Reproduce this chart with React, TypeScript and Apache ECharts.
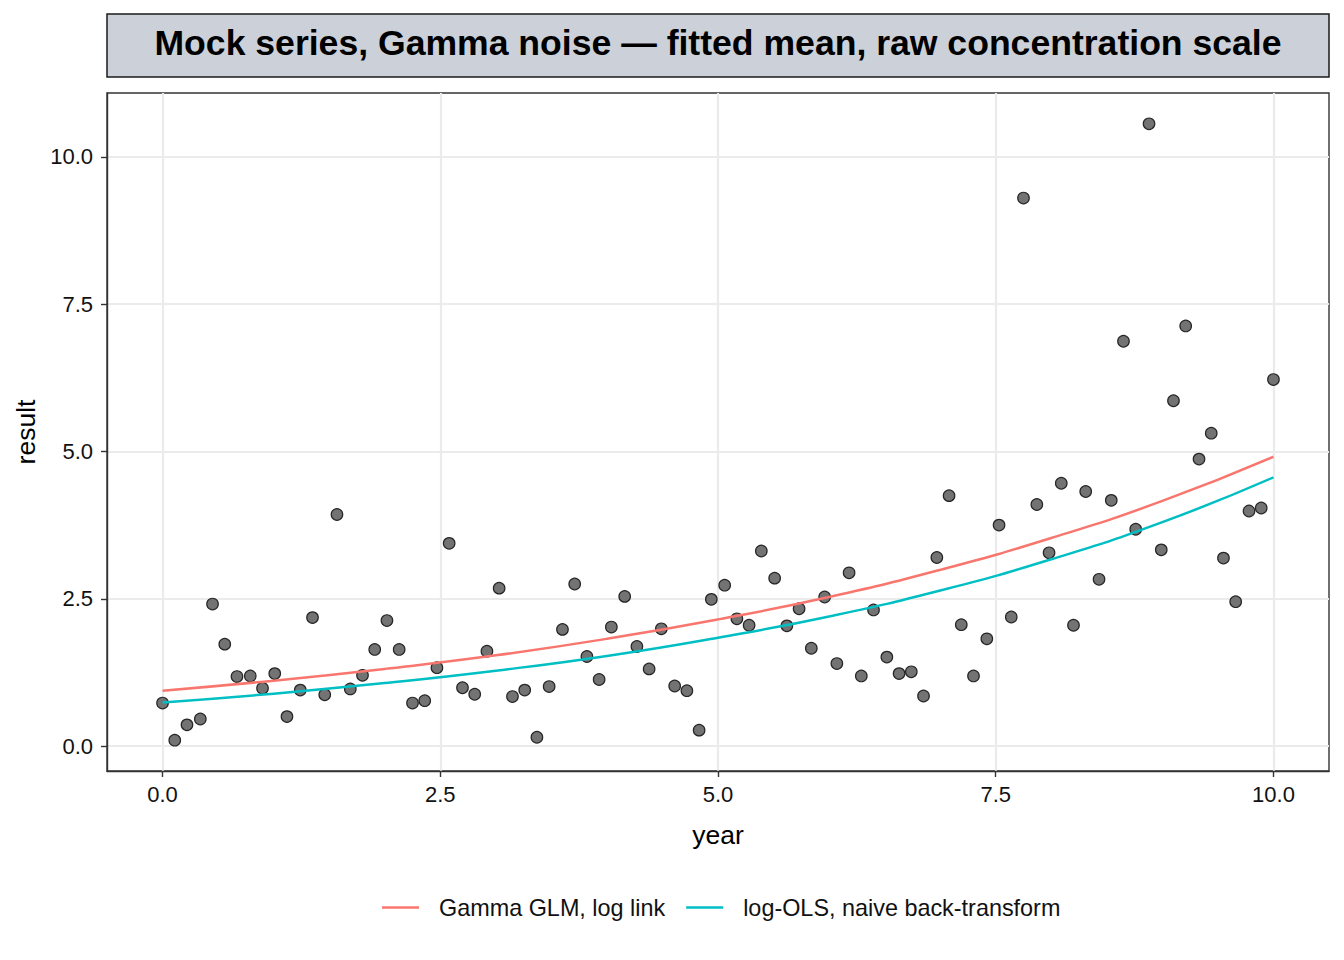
import React, { useEffect, useRef } from "react";
import * as echarts from "echarts";

const TITLE = "Mock series, Gamma noise — fitted mean, raw concentration scale";
const X_NAME = "year";
const Y_NAME = "result";
const SERIES_NAMES = ["Gamma GLM, log link", "log-OLS, naive back-transform"];
const SERIES_COLORS = ["#F8766D", "#00BFC4"];

const X_TICKS = [0, 2.5, 5, 7.5, 10];
const Y_TICKS = [0, 2.5, 5, 7.5, 10];

// observed points
const YEARS = [
  0.0, 0.11, 0.22, 0.34, 0.45, 0.56, 0.67, 0.79, 0.9, 1.01,
  1.12, 1.24, 1.35, 1.46, 1.57, 1.69, 1.8, 1.91, 2.02, 2.13,
  2.25, 2.36, 2.47, 2.58, 2.7, 2.81, 2.92, 3.03, 3.15, 3.26,
  3.37, 3.48, 3.6, 3.71, 3.82, 3.93, 4.04, 4.16, 4.27, 4.38,
  4.49, 4.61, 4.72, 4.83, 4.94, 5.06, 5.17, 5.28, 5.39, 5.51,
  5.62, 5.73, 5.84, 5.96, 6.07, 6.18, 6.29, 6.4, 6.52, 6.63,
  6.74, 6.85, 6.97, 7.08, 7.19, 7.3, 7.42, 7.53, 7.64, 7.75,
  7.87, 7.98, 8.09, 8.2, 8.31, 8.43, 8.54, 8.65, 8.76, 8.88,
  8.99, 9.1, 9.21, 9.33, 9.44, 9.55, 9.66, 9.78, 9.89, 10.0,
];
const RESULTS = [
  0.73, 0.1, 0.36, 0.46, 2.41, 1.73, 1.18, 1.19, 0.98, 1.23,
  0.5, 0.95, 2.18, 0.87, 3.93, 0.97, 1.2, 1.64, 2.13, 1.64,
  0.73, 0.77, 1.33, 3.44, 0.99, 0.88, 1.61, 2.68, 0.84, 0.95,
  0.15, 1.01, 1.98, 2.75, 1.52, 1.13, 2.02, 2.54, 1.69, 1.31,
  1.99, 1.02, 0.94, 0.27, 2.49, 2.73, 2.16, 2.05, 3.31, 2.85,
  2.04, 2.33, 1.66, 2.53, 1.4, 2.94, 1.19, 2.31, 1.51, 1.23,
  1.26, 0.85, 3.2, 4.25, 2.06, 1.19, 1.82, 3.75, 2.19, 9.3,
  4.1, 3.28, 4.46, 2.05, 4.32, 2.83, 4.17, 6.87, 3.68, 10.56,
  3.33, 5.86, 7.13, 4.87, 5.31, 3.19, 2.45, 3.99, 4.04, 6.22,
];

// fitted curves
const FIT_YEARS = [0, 1, 2, 3, 4, 5, 6, 7, 8, 9, 10];
const GAMMA_GLM = [0.94, 1.11, 1.31, 1.54, 1.82, 2.15, 2.53, 2.99, 3.53, 4.16, 4.91];
const LOG_OLS = [0.74, 0.89, 1.07, 1.28, 1.53, 1.84, 2.2, 2.64, 3.17, 3.8, 4.56];

const FONT = '"Liberation Sans", Arial, Helvetica, sans-serif';

export default function App() {
  const ref = useRef<HTMLDivElement>(null);

  useEffect(() => {
    if (!ref.current) return;
    const chart = echarts.init(ref.current, null, { renderer: "svg" });
    const fmt = (v: number) => v.toFixed(1);

    chart.setOption({
      animation: false,
      backgroundColor: "#ffffff",
      textStyle: { fontFamily: FONT },
      grid: {
        left: 107,
        top: 93,
        width: 1222,
        height: 678,
        show: true,
        borderColor: "#333333",
        borderWidth: 1.4,
        backgroundColor: "transparent",
      },
      xAxis: {
        type: "value",
        min: -0.5,
        max: 10.5,
        axisLine: { show: true, onZero: false, lineStyle: { color: "#333333", width: 1.4 } },
        axisTick: {
          show: true,
          length: 6,
          customValues: X_TICKS,
          lineStyle: { color: "#333333", width: 1.4 },
        },
        axisLabel: {
          customValues: X_TICKS,
          formatter: fmt,
          fontSize: 22,
          color: "#111111",
          margin: 12,
          fontFamily: FONT,
        },
        splitLine: { show: true, lineStyle: { color: "#ebebeb", width: 2.2 } },
        name: X_NAME,
        nameLocation: "middle",
        nameGap: 64,
        nameTextStyle: { fontSize: 26.5, color: "#000000", verticalAlign: "middle", fontFamily: FONT },
      },
      yAxis: {
        type: "value",
        min: -0.423,
        max: 11.083,
        axisLine: { show: true, onZero: false, lineStyle: { color: "#333333", width: 1.4 } },
        axisTick: {
          show: true,
          length: 6,
          customValues: Y_TICKS,
          lineStyle: { color: "#333333", width: 1.4 },
        },
        axisLabel: {
          customValues: Y_TICKS,
          formatter: fmt,
          fontSize: 22,
          color: "#111111",
          margin: 14,
          fontFamily: FONT,
        },
        splitLine: { show: true, lineStyle: { color: "#ebebeb", width: 2.2 } },
        name: Y_NAME,
        nameLocation: "middle",
        nameGap: 77,
        nameRotate: 90,
        nameTextStyle: { fontSize: 26.5, color: "#000000", verticalAlign: "middle", fontFamily: FONT },
      },
      legend: {
        data: SERIES_NAMES,
        left: 382,
        top: 896,
        padding: 0,
        icon: "rect",
        itemWidth: 37,
        itemHeight: 2.6,
        itemGap: 21,
        textStyle: { fontSize: 23.4, color: "#111111", padding: [0, 0, 0, 15], fontFamily: FONT },
      },
      graphic: [
        {
          type: "rect",
          shape: { x: 107, y: 14, width: 1222, height: 63 },
          style: { fill: "#CCD1D9", stroke: "#1a1a1a", lineWidth: 1.5 },
          z: 10,
        },
        {
          type: "text",
          x: 718,
          y: 43,
          z: 11,
          style: {
            text: TITLE,
            fontSize: 35.6,
            fontWeight: "bold",
            fontFamily: FONT,
            fill: "#000000",
            align: "center",
            verticalAlign: "middle",
          },
        },
      ],
      series: [
        {
          type: "scatter",
          name: "observed",
          data: YEARS.map((x, i) => [x, RESULTS[i]]),
          symbolSize: 11.5,
          itemStyle: { color: "#737373", borderColor: "#262626", borderWidth: 1.2, opacity: 1 },
          z: 2,
        },
        {
          type: "line",
          name: SERIES_NAMES[0],
          data: FIT_YEARS.map((x, i) => [x, GAMMA_GLM[i]]),
          smooth: true,
          symbol: "none",
          lineStyle: { color: SERIES_COLORS[0], width: 2.5 },
          itemStyle: { color: SERIES_COLORS[0] },
          z: 3,
        },
        {
          type: "line",
          name: SERIES_NAMES[1],
          data: FIT_YEARS.map((x, i) => [x, LOG_OLS[i]]),
          smooth: true,
          symbol: "none",
          lineStyle: { color: SERIES_COLORS[1], width: 2.5 },
          itemStyle: { color: SERIES_COLORS[1] },
          z: 3,
        },
      ],
    });

    return () => chart.dispose();
  }, []);

  return (
    <div
      ref={ref}
      style={{ position: "fixed", left: 0, top: 0, width: 1344, height: 960 }}
    />
  );
}
